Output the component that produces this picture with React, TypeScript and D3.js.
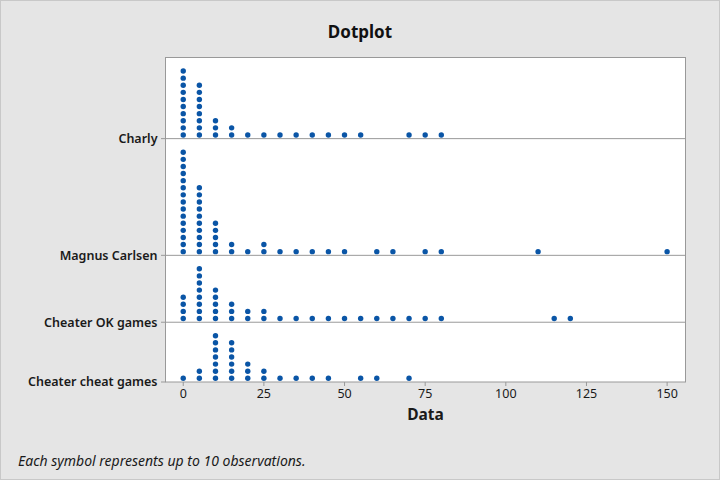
import React from "react";
import * as d3 from "d3";

const groups = ["Charly", "Magnus Carlsen", "Cheater OK games", "Cheater cheat games"];

const charlyValues = [0, 5, 10, 15, 20, 25, 30, 35, 40, 45, 50, 55, 70, 75, 80];
const charlyCounts = [10, 8, 3, 2, 1, 1, 1, 1, 1, 1, 1, 1, 1, 1, 1];

const magnusValues = [0, 5, 10, 15, 20, 25, 30, 35, 40, 45, 50, 60, 65, 75, 80, 110, 150];
const magnusCounts = [15, 10, 5, 2, 1, 2, 1, 1, 1, 1, 1, 1, 1, 1, 1, 1, 1];

const okValues = [0, 5, 10, 15, 20, 25, 30, 35, 40, 45, 50, 55, 60, 65, 70, 75, 80, 115, 120];
const okCounts = [4, 8, 5, 3, 2, 2, 1, 1, 1, 1, 1, 1, 1, 1, 1, 1, 1, 1, 1];

const cheatValues = [0, 5, 10, 15, 20, 25, 30, 35, 40, 45, 55, 60, 70];
const cheatCounts = [1, 2, 7, 6, 3, 2, 1, 1, 1, 1, 1, 1, 1];

const xTicks = [0, 25, 50, 75, 100, 125, 150];

const seriesValues = [charlyValues, magnusValues, okValues, cheatValues];
const seriesCounts = [charlyCounts, magnusCounts, okCounts, cheatCounts];

const W = 720;
const H = 480;
const panel = { left: 165.5, right: 685.5, top: 57.5, bottom: 382 };
const DOT = "#0a55a6";
const FONT = "'Noto Sans', 'Open Sans', sans-serif";

export default function App() {
  const x = d3.scaleLinear().domain([-5.5, 155.7]).range([panel.left, panel.right]);

  // row heights proportional to max stack + padding
  const maxes = seriesCounts.map((c) => (d3.max(c) as number) + 1.4);
  const total = d3.sum(maxes);
  const unit = d3.scaleLinear().domain([0, total]).range([panel.top, panel.bottom]);
  let cum = 0;
  const rowBottoms = maxes.map((m) => {
    cum += m;
    return unit(cum);
  });
  const stack = d3.scaleLinear().domain([0, 1]).range([3.7, 10.8]);

  const dots: { cx: number; cy: number; key: string }[] = [];
  seriesValues.forEach((vals, gi) => {
    vals.forEach((v, vi) => {
      const n = seriesCounts[gi][vi];
      for (let k = 0; k < n; k++) {
        dots.push({ cx: x(v), cy: rowBottoms[gi] - stack(k), key: `${gi}-${vi}-${k}` });
      }
    });
  });

  return (
    <svg width={W} height={H} style={{ position: "absolute", left: 0, top: 0 }} fontFamily={FONT}>
      <rect x={0.5} y={0.5} width={W - 1} height={H - 1} fill="#e5e5e5" stroke="#c8c8c8" />
      <text x={360} y={38} textAnchor="middle" fontSize={17} fontWeight="bold" fill="#111">
        Dotplot
      </text>
      <rect
        x={panel.left}
        y={panel.top}
        width={panel.right - panel.left}
        height={panel.bottom - panel.top}
        fill="#fff"
        stroke="#999"
      />
      {rowBottoms.slice(0, 3).map((rb, i) => (
        <line key={i} x1={panel.left} x2={panel.right} y1={rb} y2={rb} stroke="#999" />
      ))}
      {rowBottoms.map((rb, i) => (
        <g key={i}>
          <line x1={161} x2={panel.left} y1={rb} y2={rb} stroke="#999" />
          <text
            x={157.5}
            y={rb}
            dy="0.35em"
            textAnchor="end"
            fontSize={12.5}
            fontWeight={600}
            fill="#1a1a1a"
          >
            {groups[i]}
          </text>
        </g>
      ))}
      {xTicks.map((t) => (
        <g key={t}>
          <line x1={x(t)} x2={x(t)} y1={panel.bottom} y2={panel.bottom + 4} stroke="#999" />
          <text x={x(t)} y={398} textAnchor="middle" fontSize={12.5} fill="#1a1a1a">
            {t}
          </text>
        </g>
      ))}
      <text
        x={(panel.left + panel.right) / 2}
        y={420}
        textAnchor="middle"
        fontSize={15.5}
        fontWeight="bold"
        fill="#1a1a1a"
      >
        Data
      </text>
      {dots.map((d) => (
        <circle key={d.key} cx={d.cx} cy={d.cy} r={2.7} fill={DOT} />
      ))}
      <text x={18} y={466} fontSize={14} fontStyle="italic" fill="#1a1a1a">
        Each symbol represents up to 10 observations.
      </text>
    </svg>
  );
}
